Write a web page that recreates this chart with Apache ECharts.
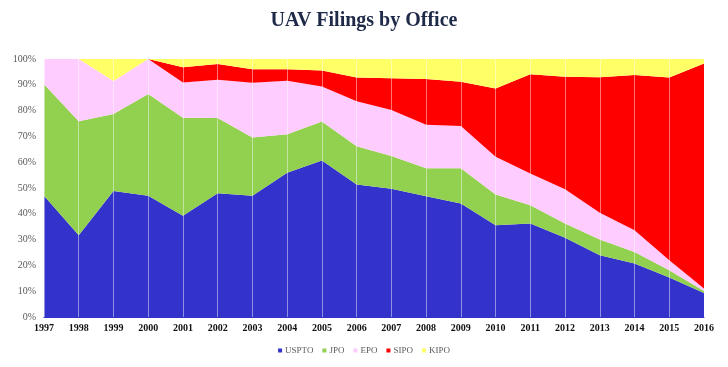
<!DOCTYPE html>
<html><head><meta charset="utf-8">
<script src="https://cdn.jsdelivr.net/npm/echarts@6/dist/echarts.min.js"></script>
<style>html,body{margin:0;padding:0;background:#fff}#c{width:728px;height:367px}</style>
</head><body><div id="c"></div>
<script>
const years = ['1997','1998','1999','2000','2001','2002','2003','2004','2005','2006','2007','2008','2009','2010','2011','2012','2013','2014','2015','2016'];
const USPTO = [47.0,31.7,48.8,47.0,39.2,48.0,47.0,55.9,60.7,51.4,49.7,46.8,44.0,35.6,36.2,30.7,23.9,20.7,15.3,9.3];
const JPO   = [43.2,44.2,29.9,39.4,38.0,29.1,22.6,14.9,15.1,14.8,12.7,10.9,13.7,11.9,7.1,5.5,6.1,4.5,2.8,0.8];
const EPO   = [9.8,24.1,12.8,13.6,13.7,14.9,21.2,20.8,13.5,17.4,17.8,16.8,16.3,14.6,12.3,13.3,10.4,8.4,3.9,0.9];
const SIPO  = [0,0,0,0,5.9,6.1,5.2,4.4,6.2,9.2,12.3,17.7,17.2,26.5,38.5,43.6,52.5,60.2,70.8,87.3];
const KIPO  = [0,0,8.5,0,3.2,1.9,4.0,4.0,4.5,7.2,7.5,7.8,8.8,11.4,5.9,6.9,7.1,6.2,7.2,1.7];
const yTicks = ['0%','10%','20%','30%','40%','50%','60%','70%','80%','90%','100%'];

const names = ['USPTO','JPO','EPO','SIPO','KIPO'];
const values = [USPTO,JPO,EPO,SIPO,KIPO];
const colors = ['#3333CC','#92D050','#FFCCFF','#FF0000','#FFFF66'];
const serif = '"Liberation Serif","DejaVu Serif",serif';

const chart = echarts.init(document.getElementById('c'));
chart.setOption({
  animation:false,
  title:{text:'UAV Filings by Office',left:'center',top:6,
    textStyle:{fontFamily:serif,fontSize:20,fontWeight:'bold',color:'#1F2A48'}},
  legend:{bottom:7,left:'center',icon:'rect',itemWidth:4,itemHeight:4,itemGap:9,
    textStyle:{fontFamily:serif,fontSize:9,color:'#595959',padding:[0,0,0,-2]},data:names},
  grid:{left:44,right:24,top:59,bottom:50},
  xAxis:{type:'category',data:years,boundaryGap:false,z:5,
    axisLine:{lineStyle:{color:'#3333CC'}},axisTick:{show:false},
    axisLabel:{fontFamily:serif,fontSize:10,fontWeight:'bold',color:'#111',margin:6},
    splitLine:{show:true,lineStyle:{color:'rgba(255,255,255,0.45)',width:1}}},
  yAxis:{type:'value',min:0,max:100,interval:10,
    axisLine:{show:false},axisTick:{show:false},splitLine:{show:false},
    axisLabel:{fontFamily:serif,fontSize:10,color:'#595959',margin:8,
      formatter:(v)=>yTicks[Math.round(v/10)]}},
  series: names.map((n,i)=>({
    name:n,type:'line',stack:'total',data:values[i],showSymbol:false,
    lineStyle:{width:0},itemStyle:{color:colors[i]},
    areaStyle:{color:colors[i],opacity:1}
  }))
});
</script></body></html>
